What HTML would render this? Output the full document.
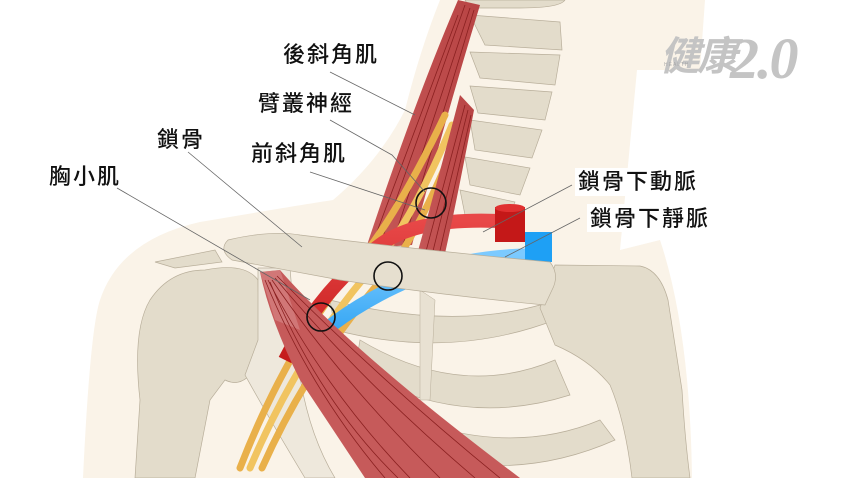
<!DOCTYPE html>
<html><head><meta charset="utf-8"><style>
html,body{margin:0;padding:0;background:#fff}
svg{display:block}
text{font-family:"Liberation Sans","Noto Sans CJK TC",sans-serif;font-size:22px;fill:#111;letter-spacing:2px;font-weight:500}
</style></head><body>
<svg width="850" height="478" viewBox="0 0 850 478" xmlns="http://www.w3.org/2000/svg">
<defs>
<linearGradient id="art" x1="0" y1="0" x2="0" y2="1"><stop offset="0" stop-color="#e84848"/><stop offset="1" stop-color="#c41a1a"/></linearGradient>
<linearGradient id="vein" x1="0" y1="0" x2="0" y2="1"><stop offset="0" stop-color="#7ccaff"/><stop offset="1" stop-color="#1c9af0"/></linearGradient>
<linearGradient id="mus" x1="0" y1="0" x2="1" y2="0"><stop offset="0" stop-color="#c65858"/><stop offset="1" stop-color="#b84444"/></linearGradient>
</defs>
<path d="M440,0 L705,0 L700,70 L637,70 L620,250 L660,240 Q690,330 692,478 L83,478 Q90,330 100,300 Q120,240 200,222 Q300,205 333,200 Q380,160 405,110 Q420,50 440,0Z" fill="#faf3e8"/>
<path d="M155,262 L215,250 L222,262 L175,268 Z" fill="#e3dccb" stroke="#b8ae9a" stroke-width="0.7"/>
<path d="M205,270 Q245,262 258,280 L260,360 Q245,390 225,380 L210,400 L195,478 L135,478 L140,400 Q132,330 150,300 Q170,270 205,270Z" fill="#e3dccb" stroke="#b8ae9a" stroke-width="0.7"/>
<path d="M258,268 L290,268 L295,330 Q300,420 335,478 L305,478 Q270,420 245,375 L258,340 Z" fill="#eee8dc" stroke="#b8ae9a" stroke-width="0.7"/>
<path d="M330,300 Q450,330 540,305 L555,320 Q450,360 335,330Z" fill="#e3dccb" stroke="#b8ae9a" stroke-width="0.7"/>
<path d="M360,340 Q460,400 555,360 L570,395 Q460,430 355,370Z" fill="#e3dccb" stroke="#b8ae9a" stroke-width="0.7"/>
<path d="M330,380 Q480,470 600,420 L615,440 Q480,500 330,420Z" fill="#e3dccb" stroke="#b8ae9a" stroke-width="0.7"/>
<path d="M420,290 L435,300 L430,400 L420,400Z" fill="#e8e1d2" stroke="#b8ae9a" stroke-width="0.5"/>
<path d="M555,265 L640,266 Q660,270 668,300 L682,390 Q685,440 690,478 L632,478 Q625,420 610,385 Q590,360 555,345 L540,308 Z" fill="#e3dccb" stroke="#b8ae9a" stroke-width="0.7"/>
<g fill="#e3dccb" stroke="#b8ae9a" stroke-width="0.7">
<path d="M465,0 L565,0 Q560,8 520,8 L470,8Z"/>
<path d="M470,15 L560,22 L562,50 L485,45Z"/>
<path d="M470,52 L560,55 L555,85 L480,78Z"/>
<path d="M470,86 L552,92 L545,120 L478,113Z"/>
<path d="M470,120 L542,130 L532,158 L475,150Z"/>
<path d="M465,157 L530,168 L520,195 L470,185Z"/>
<path d="M460,190 L515,202 L505,225 L465,215Z"/>
</g>
<path d="M458,0 L480,5 Q445,120 412,245 L366,248 Q415,100 458,0Z" fill="url(#mus)"/>
<g stroke="#8a2020" stroke-width="0.8" fill="none">
<path d="M465,5 L380,245"/><path d="M470,8 L392,245"/><path d="M474,10 L403,245"/><path d="M458,15 L372,245"/>
</g>
<g fill="none" stroke-linecap="round">
<path d="M445,115 Q400,210 360,260 Q290,340 240,468" stroke="#e9b04a" stroke-width="7"/>
<path d="M452,125 Q415,215 375,265 Q300,350 250,468" stroke="#f1c460" stroke-width="7"/>
<path d="M458,135 Q425,220 390,270 Q310,360 262,468" stroke="#e9b04a" stroke-width="7"/>
</g>
<path d="M515,222 Q420,215 380,245 Q320,290 285,360" fill="none" stroke="url(#art)" stroke-width="14"/>
<rect x="495" y="207" width="30" height="35" fill="#c41818"/>
<ellipse cx="510" cy="208" rx="15" ry="4" fill="#e03030"/>
<path d="M545,255 Q460,255 410,280 Q340,310 295,358" fill="none" stroke="url(#vein)" stroke-width="14"/>
<rect x="525" y="232" width="27" height="30" fill="#1ea0f5"/>
<path d="M460,95 L474,110 Q457,200 444,258 L416,258 Q438,180 460,95Z" fill="url(#mus)"/>
<g stroke="#8a2020" stroke-width="0.8" fill="none">
<path d="M465,105 L425,255"/><path d="M468,110 L432,255"/><path d="M471,115 L439,255"/>
</g>
<path d="M228,240 Q270,230 300,235 Q420,250 550,262 Q560,275 552,290 L545,305 Q440,295 340,280 Q260,265 232,260 Q218,250 228,240Z" fill="#e6dfcf" stroke="#b8ae9a" stroke-width="0.7"/>
<path d="M260,272 L280,270 Q350,350 520,478 L365,478 Q320,410 300,380 Q270,320 260,272Z" fill="#c65a5a"/>
<path d="M260,272 L280,270 L300,330 L275,320Z" fill="#d88a8a" opacity="0.6"/>
<g stroke="#8a2020" stroke-width="0.8" fill="none">
<path d="M265,280 Q310,390 385,478"/><path d="M268,280 Q325,390 410,478"/><path d="M272,280 Q340,380 440,478"/><path d="M275,278 Q360,380 475,478"/><path d="M270,282 Q318,400 398,478"/><path d="M277,276 Q380,380 500,478"/>
</g>
<g fill="none" stroke="#111" stroke-width="1.6">
<circle cx="431" cy="203" r="15"/><circle cx="388" cy="276" r="14"/><circle cx="321" cy="317" r="14"/>
</g>
<g stroke="#666" stroke-width="0.8" fill="none">
<path d="M330,72 L415,115"/>
<path d="M330,120 L392,155 L425,192"/>
<path d="M310,172 L425,210"/>
<path d="M188,152 L302,247"/>
<path d="M117,188 L310,300"/>
<path d="M572,185 L483,232"/>
<path d="M580,218 L505,257"/>
</g>
<text x="283" y="62">後斜角肌</text>
<text x="258" y="111">臂叢神經</text>
<text x="251" y="161">前斜角肌</text>
<text x="157" y="147">鎖骨</text>
<text x="49" y="184">胸小肌</text>
<rect x="575" y="168" width="110" height="28" fill="#fff"/>
<text x="578" y="189">鎖骨下動脈</text>
<rect x="587" y="204" width="110" height="28" fill="#fff"/>
<text x="590" y="226">鎖骨下靜脈</text>
<text x="660" y="70" style="font-size:40px;fill:#c4c4c4;font-weight:bold;font-style:italic;letter-spacing:-3px">健康</text>
<text x="730" y="78" style="font-size:58px;fill:#c4c4c4;font-style:italic;font-weight:bold;font-family:'Liberation Serif',serif;letter-spacing:-2px">2.0</text>
<text x="664" y="66" style="font-size:5px;fill:#aaa;letter-spacing:1px">HEALTH</text>
</svg>
</body></html>
